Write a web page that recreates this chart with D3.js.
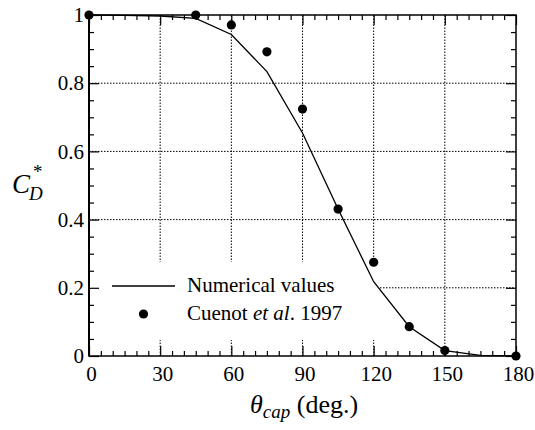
<!DOCTYPE html>
<html>
<head>
<meta charset="utf-8">
<script src="https://cdn.jsdelivr.net/npm/d3@7"></script>
</head>
<body style="margin:0; background:#fff">
<svg id="chart" width="535" height="430" font-family="Liberation Serif"></svg>
<script>
// numerical curve
const numTheta = [0, 15, 30, 45, 60, 75, 90, 105, 120, 135, 150, 165, 180];
const numCd = [1.0, 0.999, 0.997, 0.99, 0.943, 0.834, 0.654, 0.431, 0.218, 0.086, 0.016, 0.002, 0];

// Cuenot et al. 1997
const expTheta = [0, 45, 60, 75, 90, 105, 120, 135, 150, 180];
const expCd = [1.0, 1.0, 0.971, 0.892, 0.724, 0.431, 0.275, 0.086, 0.016, 0];

const xTicks = [0, 30, 60, 90, 120, 150, 180];
const yTicks = [0, 0.2, 0.4, 0.6, 0.8, 1];
const xGrid = [30, 60, 90, 120, 150];
const yGrid = [0.2, 0.4, 0.6, 0.8];
const legendLabels = ["Numerical values", "Cuenot et al. 1997"];

const FONT = "Liberation Serif";

var svg = d3.select("#chart");

var x = d3.scaleLinear().domain([0, 180]).range([89, 516]);
var y = d3.scaleLinear().domain([0, 1]).range([356, 15]);

var xMinor = d3.range(0, 181, 5).filter(d => d % 30 != 0);
var yMinor = d3.range(0, 21).map(d => d / 20).filter(d => Math.round(d * 20) % 4 != 0);

// grid
var grid = svg.append("g")
    .attr("stroke", "#000")
    .attr("stroke-width", 1)
    .attr("stroke-dasharray", "1.5,1.5");

grid.selectAll(".gx").data(xGrid).enter().append("line")
    .attr("x1", d => x(d)).attr("x2", d => x(d))
    .attr("y1", y(0)).attr("y2", y(1));

grid.selectAll(".gy").data(yGrid).enter().append("line")
    .attr("x1", x(0)).attr("x2", x(180))
    .attr("y1", d => y(d)).attr("y2", d => y(d));

// legend background hides the grid
svg.append("rect")
    .attr("x", x(0) + 1).attr("y", 262)
    .attr("width", 288).attr("height", 78)
    .attr("fill", "#fff");

// axes (ticks point inward)
function styleAxis(g) {
    g.attr("font-family", FONT).attr("font-size", 21);
    g.select(".domain").remove();
    g.selectAll("line").attr("stroke", "#000").attr("stroke-width", 1.2);
    g.selectAll("text").attr("fill", "#000");
}

svg.append("g").attr("transform", "translate(0," + y(0) + ")")
    .call(d3.axisBottom(x).tickValues(xTicks).tickSize(-10).tickPadding(10).tickFormat(d => d))
    .call(styleAxis)
    .selectAll("text").attr("dx", 2);

svg.append("g").attr("transform", "translate(0," + y(0) + ")")
    .call(d3.axisBottom(x).tickValues(xMinor).tickSize(-5).tickFormat(""))
    .call(styleAxis);

svg.append("g").attr("transform", "translate(0," + y(1) + ")")
    .call(d3.axisTop(x).tickValues(xTicks).tickSize(-10).tickFormat(""))
    .call(styleAxis);

svg.append("g").attr("transform", "translate(0," + y(1) + ")")
    .call(d3.axisTop(x).tickValues(xMinor).tickSize(-5).tickFormat(""))
    .call(styleAxis);

svg.append("g").attr("transform", "translate(" + x(0) + ",0)")
    .call(d3.axisLeft(y).tickValues(yTicks).tickSize(-10).tickPadding(5).tickFormat(d => d))
    .call(styleAxis);

svg.append("g").attr("transform", "translate(" + x(0) + ",0)")
    .call(d3.axisLeft(y).tickValues(yMinor).tickSize(-5).tickFormat(""))
    .call(styleAxis);

svg.append("g").attr("transform", "translate(" + x(180) + ",0)")
    .call(d3.axisRight(y).tickValues(yTicks).tickSize(-10).tickFormat(""))
    .call(styleAxis);

svg.append("g").attr("transform", "translate(" + x(180) + ",0)")
    .call(d3.axisRight(y).tickValues(yMinor).tickSize(-5).tickFormat(""))
    .call(styleAxis);

// frame
svg.append("rect")
    .attr("x", x(0)).attr("y", y(1))
    .attr("width", x(180) - x(0)).attr("height", y(0) - y(1))
    .attr("fill", "none").attr("stroke", "#000").attr("stroke-width", 1.5);
svg.append("line")
    .attr("x1", x(0)).attr("x2", x(0)).attr("y1", y(1)).attr("y2", y(0))
    .attr("stroke", "#000").attr("stroke-width", 2);

// numerical line
var line = d3.line()
    .x((d, i) => x(numTheta[i]))
    .y(d => y(d));

svg.append("path")
    .datum(numCd)
    .attr("d", line)
    .attr("fill", "none")
    .attr("stroke", "#000")
    .attr("stroke-width", 1.3);

// experimental points
svg.selectAll(".dot")
    .data(expCd)
    .enter()
    .append("circle")
    .attr("cx", (d, i) => x(expTheta[i]))
    .attr("cy", d => y(d))
    .attr("r", 4.6)
    .attr("fill", "#000");

// legend
svg.append("line")
    .attr("x1", 112).attr("x2", 175).attr("y1", 286).attr("y2", 286)
    .attr("stroke", "#000").attr("stroke-width", 1.3);
svg.append("circle").attr("cx", 143.5).attr("cy", 314).attr("r", 4.6).attr("fill", "#000");

svg.append("text")
    .attr("x", 187).attr("y", 292)
    .attr("font-family", FONT).attr("font-size", 21)
    .text(legendLabels[0]);

var t2 = svg.append("text")
    .attr("x", 187).attr("y", 320)
    .attr("font-family", FONT).attr("font-size", 21);
t2.append("tspan").text("Cuenot ");
t2.append("tspan").attr("font-style", "italic").text("et al");
t2.append("tspan").text(". 1997");

// x axis title
var xt = svg.append("text")
    .attr("x", 250).attr("y", 413)
    .attr("font-family", FONT).attr("font-size", 26);
xt.append("tspan").attr("font-style", "italic").text("θ");
xt.append("tspan").attr("font-style", "italic").attr("font-size", 19).attr("dy", 5).text("cap");
xt.append("tspan").attr("dy", -5).text(" (deg.)");

// y axis title
var yt = svg.append("text")
    .attr("x", 12).attr("y", 193)
    .attr("font-family", FONT).attr("font-size", 27).attr("font-style", "italic");
yt.append("tspan").text("C");
yt.append("tspan").attr("x", 33).attr("y", 178).attr("font-size", 19).attr("font-style", "normal").text("*");
yt.append("tspan").attr("x", 29).attr("y", 200).attr("font-size", 19).text("D");
</script>
</body>
</html>
